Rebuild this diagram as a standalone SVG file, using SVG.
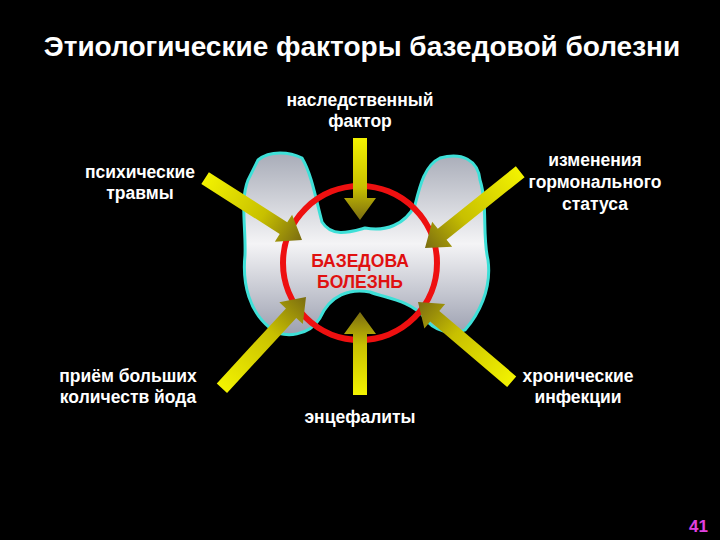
<svg xmlns="http://www.w3.org/2000/svg" width="720" height="540" viewBox="0 0 720 540">
<defs>
<linearGradient id="ag" x1="0" y1="0" x2="1" y2="0"><stop offset="0" stop-color="#f2f200"/><stop offset="0.6" stop-color="#c8c000"/><stop offset="1" stop-color="#7a6c10"/></linearGradient>
<linearGradient id="sg" x1="0" y1="0" x2="0" y2="1"><stop offset="0" stop-color="#a8acb8"/><stop offset="0.5" stop-color="#f4f4f6"/><stop offset="1" stop-color="#9ca0b0"/></linearGradient>
<style>
.t{font-family:"Liberation Sans",Arial,sans-serif;font-weight:bold;font-size:17.5px;fill:#fff;text-anchor:middle}
</style>
</defs>
<rect width="720" height="540" fill="#000"/>
<text x="362" y="56" class="t" style="font-size:28px">Этиологические факторы базедовой болезни</text>
<g id="thyroid">
<path d="M258,160 C270,150 290,152 302,158 C312,175 316,200 322,222 C332,238 350,232 365,228 C385,232 405,225 415,205 C420,185 425,165 440,158 C462,152 478,160 480,180 C488,205 482,235 488,260 C492,290 478,315 465,330 C452,336 432,330 425,318 C410,300 385,298 370,292 C350,288 330,295 320,318 C310,335 285,340 270,328 C250,312 242,285 245,255 C246,228 240,200 248,180 Z" fill="url(#sg)" stroke="#3ee0d8" stroke-width="3"/>
</g>
<g id="circle"><circle cx="360" cy="263" r="77" fill="none" stroke="#ee1010" stroke-width="6"/>
<text x="360" y="267" class="t" style="fill:#e01010">БАЗЕДОВА</text>
<text x="360" y="288" class="t" style="fill:#e01010">БОЛЕЗНЬ</text></g>
<g id="connectors">
<path d="M-82,-7 H-22 V-16 L0,0 L-22,16 V7 H-82 Z" fill="url(#ag)" transform="translate(360,220) rotate(90)"/>
<path d="M-83,-7 H-22 V-16 L0,0 L-22,16 V7 H-83 Z" fill="url(#ag)" transform="translate(360,312) rotate(-90)"/>
<path d="M-115,-7 H-22 V-16 L0,0 L-22,16 V7 H-115 Z" fill="url(#ag)" transform="translate(302,240) rotate(32.6)"/>
<path d="M-122,-7 H-22 V-16 L0,0 L-22,16 V7 H-122 Z" fill="url(#ag)" transform="translate(425,248) rotate(141.3)"/>
<path d="M-124,-7 H-22 V-16 L0,0 L-22,16 V7 H-124 Z" fill="url(#ag)" transform="translate(306,297) rotate(-47.3)"/>
<path d="M-123,-7 H-22 V-16 L0,0 L-22,16 V7 H-123 Z" fill="url(#ag)" transform="translate(418,302) rotate(220.4)"/>
</g>
<g id="n1"><text x="360" y="106" class="t">наследственный</text><text x="360" y="127" class="t">фактор</text></g>
<g id="n2"><text x="140" y="178" class="t">психические</text><text x="140" y="199" class="t">травмы</text></g>
<g id="n3"><text x="595" y="166" class="t">изменения</text><text x="595" y="188" class="t">гормонального</text><text x="595" y="210" class="t">статуса</text></g>
<g id="n4"><text x="128" y="382" class="t">приём больших</text><text x="128" y="403" class="t">количеств йода</text></g>
<g id="n5"><text x="578" y="382" class="t">хронические</text><text x="578" y="403" class="t">инфекции</text></g>
<g id="n6"><text x="360" y="423" class="t">энцефалиты</text></g>
<text x="708" y="532" style="font-family:'Liberation Sans',Arial,sans-serif;font-weight:bold;font-size:17px;fill:#e040e0;text-anchor:end">41</text>
</svg>
